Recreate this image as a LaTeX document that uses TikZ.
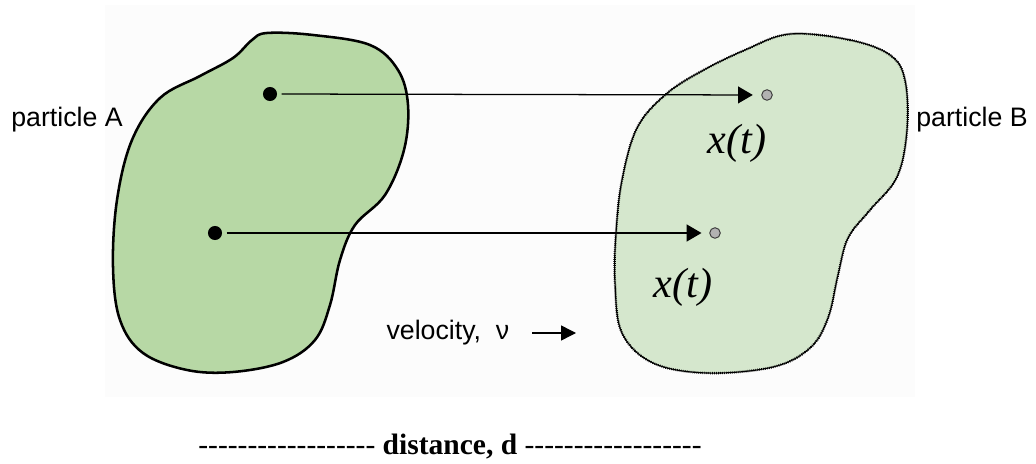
\documentclass[tikz,border=0pt]{standalone}
\usepackage{fontspec}
\setmainfont{Liberation Serif}
\setsansfont{Liberation Sans}
\usetikzlibrary{positioning, arrows.meta}
\definecolor{paperBg}{RGB}{252,252,252}
\definecolor{blobA}{RGB}{183,216,165}
\definecolor{blobB}{RGB}{213,231,205}

\begin{document}
\begin{tikzpicture}[x=0.025cm, y=-0.025cm,
  label/.style={font=\sffamily\fontsize{19}{23}\selectfont, inner sep=1pt},
  posn/.style={font=\itshape\fontsize{30}{34}\selectfont, inner sep=0pt},
  dotA/.style={circle, fill=black, inner sep=0pt, minimum size=10pt},
  dotB/.style={circle, fill=black!30, draw=black!75, line width=0.7pt,
               inner sep=0pt, minimum size=7.5pt},
  flow/.style={line width=0.9pt, -{Triangle[length=10.5pt, width=12pt]}},
]
  \useasboundingbox (0,0) rectangle (1036,464);
  \fill[paperBg] (105,5) rectangle (915,397);

  \draw[line width=1.8pt, fill=blobA] plot[smooth cycle, tension=0.6] coordinates {
    (267,33) (313,35) (370,45) (398,70) (408,105) (404,150) (385,195)
    (355,225) (340,260) (330,305) (315,340) (283,362) (233,372) (187,370)
    (143,353) (120,320) (113,267) (117,200) (132,140) (160,98) (200,76)
    (233,58) (252,40)
  };
  \draw[line width=0.8pt, fill=blobB,
        postaction={draw, line width=1.7pt, dash pattern=on 0.5pt off 0.9pt}]
    plot[smooth cycle, tension=0.6] coordinates {
    (790,34) (850,40) (890,55) (905,80) (907,130) (897,177) (870,210)
    (848,238) (838,275) (828,318) (810,348) (773,367) (707,373) (653,363)
    (622,333) (615,283) (616,233) (622,180) (637,128) (665,95) (700,72)
    (745,50)
  };

  \node[dotA] (a1) at (270,94) {};
  \node[dotA] (a2) at (215,233) {};
  \node[dotB] (b1) at (767,95) {};
  \node[dotB] (b2) at (715,233) {};
  \draw[flow, shorten <=3pt, shorten >=6pt] (a1) -- (b1);
  \draw[flow, shorten <=3pt, shorten >=5.5pt] (a2) -- (b2);

  \node[posn] (x1) at (737,143) {x(t)};
  \node[posn] (x2) at (683,287) {x(t)};

  \node[label] (partA) at (67,120) {particle A};
  \node[label] (partB) at (972,120) {particle B};

  \node[label, anchor=east] (vel) at (511,333) {velocity, \ ν};
  \coordinate (vtail) at (532,333);
  \coordinate (vtip) at (576,333);
  \draw[line width=1pt, -{Triangle[length=10.5pt, width=10.5pt]}] (vtail) -- (vtip);

  \node[font=\fontsize{21}{25}\selectfont] (dist) at (450,447)
    {-{}-{}-{}-{}-{}-{}-{}-{}-{}-{}-{}-{}-{}-{}-{}-{}-{}- \textbf{distance, d} -{}-{}-{}-{}-{}-{}-{}-{}-{}-{}-{}-{}-{}-{}-{}-{}-{}-};
\end{tikzpicture}
\end{document}
